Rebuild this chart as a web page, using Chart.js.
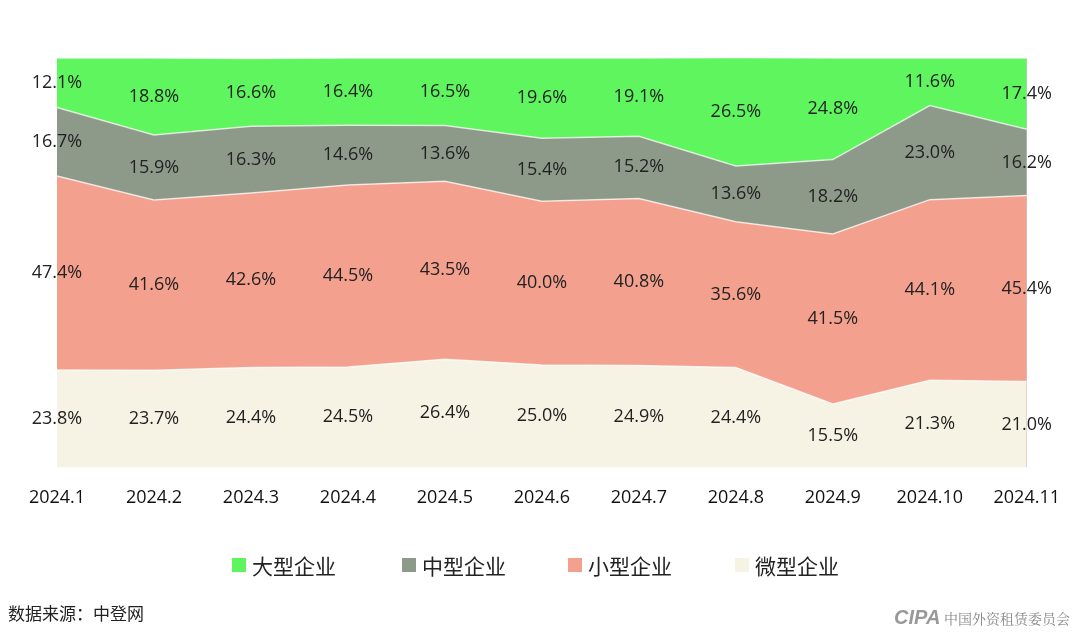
<!DOCTYPE html>
<html><head><meta charset="utf-8">
<script src="https://cdn.jsdelivr.net/npm/chart.js@4/dist/chart.umd.min.js"></script>
<style>
body{margin:0;background:#fff;font-family:"Noto Sans CJK SC","Noto Sans",sans-serif;}
#wrap{position:relative;width:1080px;height:635px;}
.leg{position:absolute;top:550px;font-size:21px;color:#222;display:flex;align-items:center;}
.leg i{display:inline-block;width:14px;height:14px;margin-right:6px;}
#src{position:absolute;left:8px;top:600px;font-size:17px;color:#222;}
#wm{position:absolute;right:10px;top:606px;font-size:14px;color:#888;font-family:"Noto Serif CJK SC",serif;}
</style></head><body>
<div id="wrap">
<canvas id="c" width="1080" height="635"></canvas>
<div class="leg" style="left:232px"><i style="background:#5ef55e"></i>大型企业</div>
<div class="leg" style="left:402px"><i style="background:#8d9a8a"></i>中型企业</div>
<div class="leg" style="left:568px"><i style="background:#f4a08e"></i>小型企业</div>
<div class="leg" style="left:735px"><i style="background:#f6f2e4"></i>微型企业</div>
<div id="src">数据来源：中登网</div>
<div id="wm"><b style="font-family:sans-serif;font-style:italic;color:#999;font-size:20px">CIPA</b> 中国外资租赁委员会</div>
</div>
<script>
const categories=["2024.1","2024.2","2024.3","2024.4","2024.5","2024.6","2024.7","2024.8","2024.9","2024.10","2024.11"];
const large=[12.1,18.8,16.6,16.4,16.5,19.6,19.1,26.5,24.8,11.6,17.4];
const mid=[16.7,15.9,16.3,14.6,13.6,15.4,15.2,13.6,18.2,23.0,16.2];
const small=[47.4,41.6,42.6,44.5,43.5,40.0,40.8,35.6,41.5,44.1,45.4];
const micro=[23.8,23.7,24.4,24.5,26.4,25.0,24.9,24.4,15.5,21.3,21.0];
const mk=(label,data,color,fill)=>({label,data,backgroundColor:color,borderColor:'rgba(255,255,255,0.7)',borderWidth:1.5,fill,pointRadius:0,tension:0});
const labelPlugin={id:'lbl',afterDatasetsDraw(chart){
 const ctx=chart.ctx;ctx.save();ctx.font='18px "Open Sans","Noto Sans",sans-serif';ctx.fillStyle='#222';ctx.textAlign='center';ctx.textBaseline='middle';
 const ys=chart.scales.y;
 chart.data.labels.forEach((l,i)=>{
  let base=0;
  chart.data.datasets.forEach((ds,di)=>{
   const v=ds.data[i];
   const x=chart.getDatasetMeta(di).data[i].x;
   const y=ys.getPixelForValue(base+v/2);
   ctx.fillText(v.toFixed(1)+'%',x,y);
   base+=v;
  });
 });
 ctx.restore();
}};
new Chart(document.getElementById('c'),{type:'line',
data:{labels:categories,datasets:[mk('微型企业',micro,'#f6f2e4','origin'),mk('小型企业',small,'#f4a08e','-1'),mk('中型企业',mid,'#8d9a8a','-1'),mk('大型企业',large,'#5ef55e','-1')]},
options:{responsive:false,animation:false,layout:{padding:{left:57,right:48,top:58,bottom:106}},
plugins:{legend:{display:false},tooltip:{enabled:false}},
scales:{x:{offset:false,grid:{color:'#c8c8c8',borderDash:[4,4],drawTicks:false},border:{display:false},ticks:{padding:20,color:'#111',font:{size:18,weight:'500',family:'"Open Sans","Noto Sans",sans-serif'}}},
y:{stacked:true,min:0,max:100,display:false}}},
plugins:[labelPlugin]});
</script></body></html>
